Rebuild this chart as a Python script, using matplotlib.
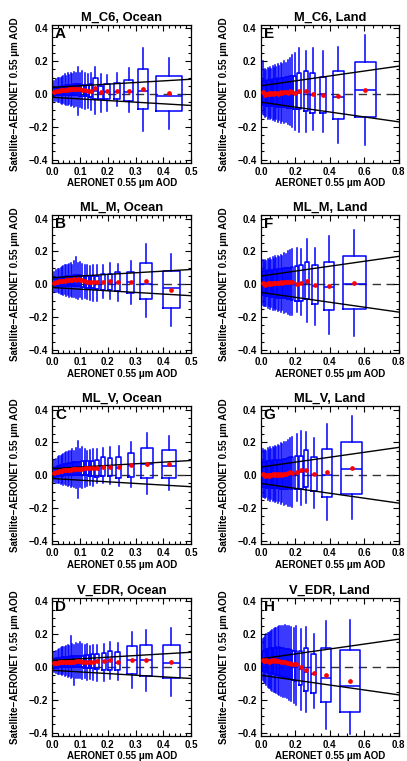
import numpy as np
import matplotlib.pyplot as plt
from matplotlib.ticker import MultipleLocator

plt.rcParams['font.family'] = ['Liberation Sans', 'DejaVu Sans']
plt.rcParams['font.weight'] = 'bold'

# ---------------- data ----------------
# each box: AOD range x0..x1, whisker low/high, quartiles, median, mean (red dot)

# A: M_C6, Ocean
A_x0 = [0.005, 0.012, 0.018, 0.023, 0.028, 0.033, 0.038, 0.043, 0.048, 0.053, 0.058, 0.064, 0.070, 0.076, 0.082, 0.089, 0.096, 0.104, 0.113, 0.122, 0.133,
        0.146, 0.165, 0.188, 0.221, 0.260, 0.307, 0.375]
A_x1 = [0.012, 0.018, 0.023, 0.028, 0.033, 0.038, 0.043, 0.048, 0.053, 0.058, 0.064, 0.070, 0.076, 0.082, 0.089, 0.096, 0.104, 0.113, 0.122, 0.133, 0.144,
        0.164, 0.183, 0.209, 0.243, 0.290, 0.345, 0.467]
A_mean = [0.015, 0.018, 0.020, 0.021, 0.022, 0.023, 0.024, 0.025, 0.026, 0.027, 0.028, 0.028, 0.029, 0.030, 0.030, 0.031, 0.028, 0.026, 0.022, 0.019, 0.020,
          0.039, 0.014, 0.020, 0.018, 0.020, 0.030, 0.003]
A_med = [0.010, 0.013, 0.015, 0.016, 0.017, 0.018, 0.019, 0.020, 0.021, 0.022, 0.023, 0.023, 0.024, 0.025, 0.025, 0.026, 0.023, 0.021, 0.017, 0.014, 0.015,
         0.020, 0.005, 0.010, 0.012, 0.012, 0.020, -0.014]
A_q1 = [-0.010, -0.008, -0.008, -0.007, -0.007, -0.007, -0.006, -0.006, -0.006, -0.006, -0.006, -0.007, -0.007, -0.008, -0.008, -0.009, -0.010, -0.012, -0.014, -0.015, -0.016,
        -0.030, -0.030, -0.028, -0.028, -0.044, -0.094, -0.106]
A_q3 = [0.035, 0.038, 0.040, 0.042, 0.044, 0.046, 0.048, 0.050, 0.052, 0.053, 0.055, 0.056, 0.057, 0.058, 0.058, 0.059, 0.058, 0.056, 0.055, 0.055, 0.058,
        0.100, 0.046, 0.062, 0.066, 0.086, 0.152, 0.110]
A_wlo = [-0.040, -0.045, -0.050, -0.050, -0.055, -0.060, -0.055, -0.060, -0.065, -0.070, -0.060, -0.075, -0.070, -0.080, -0.075, -0.130, -0.080, -0.085, -0.090, -0.085, -0.095,
         -0.124, -0.110, -0.104, -0.074, -0.108, -0.224, -0.214]
A_whi = [0.080, 0.090, 0.095, 0.100, 0.100, 0.105, 0.110, 0.120, 0.110, 0.125, 0.115, 0.130, 0.120, 0.135, 0.125, 0.165, 0.130, 0.140, 0.130, 0.120, 0.125,
         0.166, 0.120, 0.116, 0.126, 0.156, 0.282, 0.220]

# B: ML_M, Ocean
B_x0 = [0.005, 0.012, 0.018, 0.023, 0.028, 0.033, 0.038, 0.043, 0.048, 0.053, 0.058, 0.064, 0.070, 0.076, 0.082, 0.089, 0.096, 0.104, 0.113, 0.122, 0.131, 0.141,
        0.155, 0.177, 0.200, 0.227, 0.269, 0.315, 0.397]
B_x1 = [0.012, 0.018, 0.023, 0.028, 0.033, 0.038, 0.043, 0.048, 0.053, 0.058, 0.064, 0.070, 0.076, 0.082, 0.089, 0.096, 0.104, 0.113, 0.122, 0.131, 0.141, 0.151,
        0.170, 0.191, 0.215, 0.245, 0.295, 0.359, 0.460]
B_mean = [0.008, 0.012, 0.015, 0.017, 0.018, 0.020, 0.021, 0.022, 0.024, 0.025, 0.026, 0.027, 0.028, 0.029, 0.028, 0.030, 0.027, 0.024, 0.018, 0.015, 0.014, 0.014,
          0.014, 0.014, 0.019, 0.014, 0.012, 0.019, -0.033]
B_med = [0.003, 0.007, 0.010, 0.012, 0.013, 0.015, 0.016, 0.017, 0.019, 0.020, 0.021, 0.022, 0.023, 0.024, 0.023, 0.025, 0.022, 0.019, 0.013, 0.010, 0.009, 0.009,
         0.005, 0.008, 0.010, 0.008, 0.012, 0.000, -0.020]
B_q1 = [-0.012, -0.010, -0.010, -0.009, -0.009, -0.009, -0.008, -0.008, -0.008, -0.008, -0.008, -0.009, -0.009, -0.010, -0.010, -0.011, -0.012, -0.014, -0.018, -0.020, -0.022, -0.024,
        -0.027, -0.033, -0.033, -0.043, -0.056, -0.093, -0.144]
B_q3 = [0.030, 0.034, 0.036, 0.038, 0.040, 0.042, 0.044, 0.046, 0.048, 0.050, 0.051, 0.052, 0.053, 0.054, 0.054, 0.055, 0.054, 0.052, 0.050, 0.050, 0.050, 0.052,
        0.050, 0.064, 0.064, 0.076, 0.076, 0.128, 0.078]
B_wlo = [-0.045, -0.050, -0.050, -0.055, -0.060, -0.060, -0.065, -0.060, -0.070, -0.065, -0.075, -0.070, -0.080, -0.075, -0.085, -0.090, -0.080, -0.090, -0.085, -0.090, -0.095, -0.100,
         -0.100, -0.082, -0.090, -0.104, -0.120, -0.202, -0.252]
B_whi = [0.075, 0.085, 0.090, 0.095, 0.100, 0.105, 0.110, 0.115, 0.120, 0.115, 0.125, 0.130, 0.120, 0.140, 0.165, 0.130, 0.135, 0.125, 0.120, 0.115, 0.110, 0.120,
         0.120, 0.120, 0.132, 0.124, 0.142, 0.243, 0.187]

# C: ML_V, Ocean
C_x0 = [0.005, 0.012, 0.018, 0.023, 0.028, 0.033, 0.038, 0.043, 0.048, 0.053, 0.058, 0.064, 0.070, 0.076, 0.082, 0.089, 0.096, 0.104, 0.113, 0.122, 0.131, 0.141,
        0.155, 0.176, 0.200, 0.230, 0.273, 0.319, 0.395]
C_x1 = [0.012, 0.018, 0.023, 0.028, 0.033, 0.038, 0.043, 0.048, 0.053, 0.058, 0.064, 0.070, 0.076, 0.082, 0.089, 0.096, 0.104, 0.113, 0.122, 0.131, 0.141, 0.151,
        0.170, 0.189, 0.215, 0.248, 0.295, 0.361, 0.445]
C_mean = [0.015, 0.018, 0.021, 0.023, 0.025, 0.027, 0.029, 0.030, 0.032, 0.033, 0.034, 0.035, 0.036, 0.037, 0.038, 0.039, 0.040, 0.041, 0.042, 0.043, 0.044, 0.045,
          0.046, 0.048, 0.052, 0.048, 0.062, 0.071, 0.067]
C_med = [0.010, 0.013, 0.016, 0.018, 0.020, 0.022, 0.024, 0.025, 0.027, 0.028, 0.029, 0.030, 0.031, 0.032, 0.033, 0.034, 0.035, 0.036, 0.037, 0.038, 0.039, 0.040,
         0.045, 0.045, 0.050, 0.045, 0.065, 0.071, 0.056]
C_q1 = [-0.010, -0.008, -0.006, -0.005, -0.004, -0.003, -0.002, -0.001, 0.000, 0.000, 0.001, 0.001, 0.002, 0.002, 0.002, 0.002, 0.002, 0.001, 0.000, -0.001, -0.002, -0.003,
        -0.010, -0.006, -0.006, -0.015, -0.010, -0.019, -0.019]
C_q3 = [0.045, 0.050, 0.055, 0.058, 0.061, 0.064, 0.067, 0.069, 0.071, 0.073, 0.075, 0.077, 0.078, 0.080, 0.081, 0.082, 0.083, 0.084, 0.085, 0.086, 0.088, 0.089,
        0.090, 0.110, 0.104, 0.110, 0.135, 0.167, 0.152]
C_wlo = [-0.040, -0.045, -0.050, -0.050, -0.055, -0.050, -0.060, -0.055, -0.060, -0.065, -0.060, -0.070, -0.065, -0.070, -0.075, -0.140, -0.070, -0.075, -0.070, -0.065, -0.060, -0.065,
         -0.045, -0.045, -0.055, -0.063, -0.073, -0.112, -0.092]
C_whi = [0.090, 0.100, 0.110, 0.115, 0.120, 0.125, 0.130, 0.135, 0.140, 0.140, 0.150, 0.145, 0.160, 0.150, 0.165, 0.210, 0.160, 0.170, 0.160, 0.150, 0.155, 0.160,
         0.160, 0.165, 0.170, 0.177, 0.202, 0.260, 0.238]

# D: V_EDR, Ocean
D_x0 = [0.005, 0.012, 0.018, 0.023, 0.028, 0.033, 0.038, 0.043, 0.048, 0.053, 0.058, 0.064, 0.070, 0.076, 0.082, 0.089, 0.096, 0.104, 0.113, 0.122, 0.131, 0.141,
        0.155, 0.180, 0.200, 0.227, 0.269, 0.315, 0.397]
D_x1 = [0.012, 0.018, 0.023, 0.028, 0.033, 0.038, 0.043, 0.048, 0.053, 0.058, 0.064, 0.070, 0.076, 0.082, 0.089, 0.096, 0.104, 0.113, 0.122, 0.131, 0.141, 0.151,
        0.170, 0.195, 0.215, 0.245, 0.305, 0.359, 0.458]
D_mean = [0.022, 0.025, 0.027, 0.028, 0.029, 0.030, 0.030, 0.031, 0.031, 0.032, 0.032, 0.033, 0.033, 0.033, 0.034, 0.034, 0.034, 0.033, 0.033, 0.032, 0.031, 0.030,
          0.038, 0.034, 0.040, 0.030, 0.042, 0.040, 0.032]
D_med = [0.017, 0.020, 0.022, 0.023, 0.024, 0.025, 0.025, 0.026, 0.026, 0.027, 0.027, 0.028, 0.028, 0.028, 0.029, 0.029, 0.029, 0.028, 0.028, 0.027, 0.026, 0.025,
         0.030, 0.030, 0.035, 0.025, 0.040, 0.040, 0.024]
D_q1 = [-0.005, -0.004, -0.003, -0.002, -0.002, -0.001, -0.001, 0.000, 0.000, 0.000, 0.000, 0.000, 0.000, 0.000, 0.000, -0.001, -0.001, -0.002, -0.003, -0.004, -0.005, -0.006,
        -0.010, -0.018, -0.018, -0.020, -0.044, -0.053, -0.069]
D_q3 = [0.050, 0.053, 0.055, 0.057, 0.058, 0.059, 0.060, 0.061, 0.062, 0.063, 0.064, 0.065, 0.066, 0.066, 0.067, 0.068, 0.069, 0.070, 0.072, 0.074, 0.076, 0.078,
        0.082, 0.084, 0.095, 0.089, 0.129, 0.135, 0.135]
D_wlo = [-0.030, -0.035, -0.040, -0.045, -0.040, -0.050, -0.045, -0.055, -0.050, -0.060, -0.055, -0.065, -0.060, -0.110, -0.065, -0.070, -0.065, -0.075, -0.070, -0.080, -0.075, -0.080,
         -0.085, -0.085, -0.075, -0.080, -0.127, -0.147, -0.176]
D_whi = [0.090, 0.100, 0.105, 0.110, 0.115, 0.120, 0.125, 0.120, 0.130, 0.135, 0.130, 0.190, 0.140, 0.135, 0.145, 0.140, 0.150, 0.140, 0.135, 0.140, 0.130, 0.135,
         0.135, 0.140, 0.150, 0.149, 0.214, 0.224, 0.238]

# E: M_C6, Land
E_x0 = [0.005, 0.015, 0.022, 0.029, 0.036, 0.043, 0.050, 0.057, 0.064, 0.071, 0.078, 0.086, 0.094, 0.102, 0.111, 0.120, 0.130, 0.140, 0.151, 0.163, 0.176, 0.189,
        0.210, 0.249, 0.283, 0.341, 0.418, 0.544]
E_x1 = [0.015, 0.022, 0.029, 0.036, 0.043, 0.050, 0.057, 0.064, 0.071, 0.078, 0.086, 0.094, 0.102, 0.111, 0.120, 0.130, 0.140, 0.151, 0.163, 0.176, 0.189, 0.203,
        0.235, 0.274, 0.316, 0.376, 0.480, 0.669]
E_mean = [0.010, 0.004, -0.004, 0.002, -0.002, 0.004, -0.001, 0.006, 0.002, 0.008, 0.003, 0.009, 0.001, 0.006, 0.011, 0.004, 0.010, 0.014, 0.008, 0.016, 0.012, 0.006,
          0.018, 0.020, 0.000, -0.004, -0.010, 0.024]
E_med = [0.002, -0.004, -0.012, -0.006, -0.010, -0.004, -0.009, -0.002, -0.006, 0.000, -0.005, 0.001, -0.007, -0.002, 0.003, -0.004, 0.002, 0.006, 0.000, 0.008, 0.004, -0.002,
         0.008, 0.010, -0.005, 0.000, -0.018, 0.022]
E_q1 = [-0.060, -0.065, -0.070, -0.070, -0.072, -0.070, -0.075, -0.072, -0.075, -0.074, -0.076, -0.075, -0.078, -0.076, -0.080, -0.078, -0.080, -0.082, -0.085, -0.085, -0.088, -0.090,
        -0.093, -0.103, -0.113, -0.119, -0.152, -0.143]
E_q3 = [0.085, 0.080, 0.080, 0.082, 0.085, 0.083, 0.088, 0.086, 0.090, 0.088, 0.092, 0.090, 0.095, 0.092, 0.098, 0.096, 0.100, 0.102, 0.105, 0.108, 0.110, 0.112,
        0.125, 0.139, 0.125, 0.105, 0.140, 0.192]
E_wlo = [-0.120, -0.130, -0.140, -0.135, -0.150, -0.140, -0.155, -0.145, -0.160, -0.150, -0.165, -0.155, -0.170, -0.160, -0.175, -0.165, -0.180, -0.170, -0.185, -0.190, -0.200, -0.220,
         -0.232, -0.232, -0.222, -0.232, -0.300, -0.311]
E_whi = [0.200, 0.140, 0.150, 0.145, 0.160, 0.150, 0.165, 0.155, 0.170, 0.160, 0.175, 0.165, 0.180, 0.170, 0.190, 0.180, 0.200, 0.190, 0.210, 0.220, 0.240, 0.250,
         0.283, 0.263, 0.283, 0.263, 0.287, 0.362]

# F: ML_M, Land
F_x0 = [0.005, 0.015, 0.022, 0.029, 0.036, 0.043, 0.050, 0.057, 0.064, 0.071, 0.078, 0.086, 0.094, 0.102, 0.111, 0.120, 0.130, 0.140, 0.151, 0.163, 0.176,
        0.197, 0.222, 0.254, 0.299, 0.364, 0.476]
F_x1 = [0.015, 0.022, 0.029, 0.036, 0.043, 0.050, 0.057, 0.064, 0.071, 0.078, 0.086, 0.094, 0.102, 0.111, 0.120, 0.130, 0.140, 0.151, 0.163, 0.176, 0.189,
        0.218, 0.245, 0.280, 0.332, 0.424, 0.607]
F_mean = [0.008, 0.004, -0.003, 0.003, 0.006, 0.002, 0.008, 0.004, 0.009, 0.005, 0.010, 0.006, 0.010, 0.008, 0.012, 0.010, 0.014, 0.012, 0.015, 0.013, 0.012,
          0.004, 0.010, 0.020, -0.004, -0.012, 0.008]
F_med = [0.000, -0.004, -0.011, -0.005, -0.002, -0.006, 0.000, -0.004, 0.001, -0.003, 0.002, -0.002, 0.002, 0.000, 0.004, 0.002, 0.006, 0.004, 0.007, 0.005, 0.004,
         -0.005, 0.000, 0.010, -0.010, -0.015, 0.000]
F_q1 = [-0.065, -0.068, -0.072, -0.070, -0.074, -0.072, -0.076, -0.074, -0.078, -0.076, -0.080, -0.078, -0.082, -0.080, -0.084, -0.082, -0.086, -0.086, -0.090, -0.090, -0.095,
        -0.103, -0.103, -0.093, -0.123, -0.156, -0.152]
F_q3 = [0.080, 0.078, 0.080, 0.082, 0.084, 0.083, 0.086, 0.085, 0.088, 0.087, 0.090, 0.089, 0.092, 0.091, 0.094, 0.093, 0.096, 0.098, 0.100, 0.102, 0.105,
        0.109, 0.115, 0.135, 0.119, 0.135, 0.170]
F_wlo = [-0.125, -0.130, -0.135, -0.130, -0.145, -0.135, -0.150, -0.140, -0.155, -0.145, -0.160, -0.150, -0.165, -0.155, -0.170, -0.160, -0.175, -0.170, -0.180, -0.185, -0.190,
         -0.170, -0.190, -0.230, -0.248, -0.305, -0.317]
F_whi = [0.150, 0.135, 0.145, 0.140, 0.155, 0.145, 0.160, 0.150, 0.165, 0.155, 0.170, 0.160, 0.175, 0.165, 0.180, 0.175, 0.190, 0.185, 0.200, 0.210, 0.215,
         0.224, 0.214, 0.273, 0.224, 0.293, 0.329]

# G: ML_V, Land
G_x0 = [0.005, 0.015, 0.022, 0.029, 0.036, 0.043, 0.050, 0.057, 0.064, 0.071, 0.078, 0.086, 0.094, 0.102, 0.111, 0.120, 0.130, 0.140, 0.151, 0.163, 0.176,
        0.197, 0.222, 0.250, 0.293, 0.357, 0.466]
G_x1 = [0.015, 0.022, 0.029, 0.036, 0.043, 0.050, 0.057, 0.064, 0.071, 0.078, 0.086, 0.094, 0.102, 0.111, 0.120, 0.130, 0.140, 0.151, 0.163, 0.176, 0.189,
        0.218, 0.245, 0.274, 0.326, 0.413, 0.588]
G_mean = [0.006, 0.002, -0.004, 0.001, 0.003, -0.002, 0.004, 0.000, 0.005, 0.002, 0.006, 0.001, 0.007, 0.003, 0.008, 0.004, 0.010, 0.007, 0.012, 0.020, 0.016,
          0.019, 0.029, 0.033, 0.008, 0.017, 0.046]
G_med = [-0.002, -0.006, -0.012, -0.007, -0.005, -0.010, -0.004, -0.008, -0.003, -0.006, -0.002, -0.007, -0.001, -0.005, 0.000, -0.004, 0.002, -0.001, 0.004, 0.012, 0.008,
         0.010, 0.020, 0.025, 0.000, 0.000, 0.037]
G_q1 = [-0.068, -0.070, -0.074, -0.072, -0.075, -0.074, -0.077, -0.075, -0.078, -0.076, -0.079, -0.078, -0.080, -0.079, -0.081, -0.080, -0.082, -0.082, -0.083, -0.080, -0.082,
        -0.083, -0.083, -0.073, -0.098, -0.131, -0.112]
G_q3 = [0.082, 0.080, 0.082, 0.084, 0.086, 0.085, 0.088, 0.087, 0.090, 0.089, 0.092, 0.091, 0.094, 0.093, 0.096, 0.096, 0.100, 0.102, 0.106, 0.110, 0.112,
        0.119, 0.119, 0.152, 0.113, 0.162, 0.202]
G_wlo = [-0.130, -0.135, -0.140, -0.135, -0.150, -0.140, -0.155, -0.145, -0.160, -0.150, -0.165, -0.155, -0.170, -0.160, -0.175, -0.165, -0.180, -0.175, -0.185, -0.190, -0.195,
         -0.160, -0.180, -0.170, -0.200, -0.271, -0.265]
G_whi = [0.160, 0.145, 0.155, 0.150, 0.165, 0.155, 0.170, 0.160, 0.175, 0.165, 0.180, 0.170, 0.185, 0.180, 0.195, 0.190, 0.205, 0.200, 0.215, 0.225, 0.235,
         0.254, 0.267, 0.263, 0.230, 0.312, 0.360]

# H: V_EDR, Land
H_x0 = [0.005, 0.014, 0.021, 0.028, 0.035, 0.042, 0.049, 0.056, 0.063, 0.070, 0.078, 0.086, 0.094, 0.103, 0.112, 0.122, 0.132, 0.143, 0.155, 0.168, 0.182, 0.197,
        0.222, 0.250, 0.293, 0.351, 0.461]
H_x1 = [0.014, 0.021, 0.028, 0.035, 0.042, 0.049, 0.056, 0.063, 0.070, 0.078, 0.086, 0.094, 0.103, 0.112, 0.122, 0.132, 0.143, 0.155, 0.168, 0.182, 0.197, 0.212,
        0.241, 0.274, 0.322, 0.405, 0.576]
H_mean = [0.042, 0.038, 0.034, 0.040, 0.036, 0.032, 0.038, 0.034, 0.040, 0.036, 0.042, 0.038, 0.034, 0.036, 0.030, 0.032, 0.028, 0.022, 0.024, 0.020, 0.018, 0.016,
          -0.002, -0.018, -0.038, -0.050, -0.087]
H_med = [0.030, 0.026, 0.022, 0.028, 0.024, 0.020, 0.026, 0.022, 0.028, 0.024, 0.030, 0.026, 0.022, 0.024, 0.018, 0.020, 0.016, 0.010, 0.012, 0.008, 0.006, 0.004,
         -0.010, -0.030, -0.045, -0.067, -0.113]
H_q1 = [-0.020, -0.025, -0.028, -0.030, -0.032, -0.034, -0.036, -0.038, -0.040, -0.042, -0.044, -0.046, -0.048, -0.050, -0.054, -0.058, -0.062, -0.066, -0.070, -0.075, -0.080, -0.088,
        -0.109, -0.147, -0.156, -0.212, -0.275]
H_q3 = [0.095, 0.100, 0.105, 0.108, 0.110, 0.112, 0.114, 0.115, 0.116, 0.118, 0.118, 0.120, 0.118, 0.120, 0.115, 0.118, 0.112, 0.110, 0.108, 0.105, 0.100, 0.098,
        0.095, 0.115, 0.081, 0.115, 0.101]
H_wlo = [-0.080, -0.090, -0.100, -0.110, -0.120, -0.125, -0.130, -0.140, -0.145, -0.150, -0.155, -0.160, -0.165, -0.170, -0.175, -0.180, -0.185, -0.190, -0.200, -0.210, -0.220, -0.230,
         -0.260, -0.277, -0.251, -0.376, -0.410]
H_whi = [0.170, 0.180, 0.190, 0.200, 0.205, 0.210, 0.215, 0.220, 0.225, 0.230, 0.235, 0.240, 0.245, 0.250, 0.250, 0.250, 0.255, 0.250, 0.250, 0.245, 0.240, 0.250,
         0.230, 0.244, 0.204, 0.283, 0.289]

# expected error envelopes: (upper intercept, lower intercept, slope)
ocean_ee = (0.04, -0.02, 0.10)
land_ee = (0.05, -0.05, 0.15)

panels = [
    ('A', 'M_C6, Ocean', 'ocean', A_x0, A_x1, A_wlo, A_q1, A_med, A_q3, A_whi, A_mean),
    ('B', 'ML_M, Ocean', 'ocean', B_x0, B_x1, B_wlo, B_q1, B_med, B_q3, B_whi, B_mean),
    ('C', 'ML_V, Ocean', 'ocean', C_x0, C_x1, C_wlo, C_q1, C_med, C_q3, C_whi, C_mean),
    ('D', 'V_EDR, Ocean', 'ocean', D_x0, D_x1, D_wlo, D_q1, D_med, D_q3, D_whi, D_mean),
    ('E', 'M_C6, Land', 'land', E_x0, E_x1, E_wlo, E_q1, E_med, E_q3, E_whi, E_mean),
    ('F', 'ML_M, Land', 'land', F_x0, F_x1, F_wlo, F_q1, F_med, F_q3, F_whi, F_mean),
    ('G', 'ML_V, Land', 'land', G_x0, G_x1, G_wlo, G_q1, G_med, G_q3, G_whi, G_mean),
    ('H', 'V_EDR, Land', 'land', H_x0, H_x1, H_wlo, H_q1, H_med, H_q3, H_whi, H_mean),
]

fig = plt.figure(figsize=(4.07, 7.61), dpi=100)

col_left = [0.128, 0.641]
col_w = [0.342, 0.339]
row_bottom = [0.786, 0.536, 0.285, 0.033]
row_h = 0.181

blue = '#0000ff'

for i, (letter, title, kind, x0, x1, wlo, q1, med, q3, whi, mean) in enumerate(panels):
    col = 0 if kind == 'ocean' else 1
    row = i % 4
    ax = fig.add_axes([col_left[col], row_bottom[row], col_w[col], row_h])

    x0 = np.array(x0)
    x1 = np.array(x1)
    assert len(x0) == len(x1) == len(wlo) == len(q1) == len(med) == len(q3) == len(whi) == len(mean), letter
    pos = (x0 + x1) / 2
    stats = []
    for a, b, c, d, e in zip(wlo, q1, med, q3, whi):
        stats.append(dict(whislo=a, q1=b, med=c, q3=d, whishi=e, fliers=[]))

    ax.bxp(stats, positions=pos, widths=x1 - x0, showfliers=False, showcaps=False,
           manage_ticks=False,
           boxprops=dict(color=blue, lw=1.1),
           whiskerprops=dict(color=blue, lw=1.1),
           medianprops=dict(color=blue, lw=1.1),
           zorder=2)

    xmax = 0.5 if kind == 'ocean' else 0.8
    up, lo, slope = ocean_ee if kind == 'ocean' else land_ee
    xs = np.array([0, xmax])
    ax.plot(xs, up + slope * xs, color='black', lw=1, zorder=3)
    ax.plot(xs, lo - slope * xs, color='black', lw=1, zorder=3)
    ax.plot(xs, [0, 0], color='#333333', lw=1, ls=(0, (6, 4)), zorder=1)

    ax.plot(pos, mean, 'o', color='red', ms=3.4, mec='none', zorder=4)

    ax.set_xlim(0, xmax)
    ax.set_ylim(-0.42, 0.42)
    if kind == 'ocean':
        ax.xaxis.set_major_locator(MultipleLocator(0.1))
        ax.xaxis.set_minor_locator(MultipleLocator(0.02))
    else:
        ax.xaxis.set_major_locator(MultipleLocator(0.2))
        ax.xaxis.set_minor_locator(MultipleLocator(0.05))
    ax.yaxis.set_major_locator(MultipleLocator(0.2))
    ax.yaxis.set_minor_locator(MultipleLocator(0.05))
    ax.xaxis.set_major_formatter(plt.FuncFormatter(lambda v, p: f'{v:.1f}'))
    ax.yaxis.set_major_formatter(plt.FuncFormatter(lambda v, p: f'{v:.1f}'.replace('-', '\u2212')))

    ax.tick_params(which='both', direction='in', top=True, right=True, width=0.8, labelsize=7, pad=3)
    ax.tick_params(which='major', length=4)
    ax.tick_params(which='minor', length=2)
    for s in ax.spines.values():
        s.set_linewidth(0.9)

    ax.set_title(title, fontsize=9.3, fontweight='bold', pad=3)
    ax.text(0.02, 0.985, letter, transform=ax.transAxes, fontsize=11, fontweight='bold',
            ha='left', va='top', zorder=5)
    ax.set_xlabel('AERONET 0.55 \u03bcm AOD', fontsize=7, fontweight='bold', labelpad=1)
    ax.set_ylabel('Satellite\u2212AERONET 0.55 \u03bcm AOD', fontsize=7, fontweight='bold')
    ax.yaxis.set_label_coords(-0.23, 0.5)

fig.savefig('out.png', dpi=100)
